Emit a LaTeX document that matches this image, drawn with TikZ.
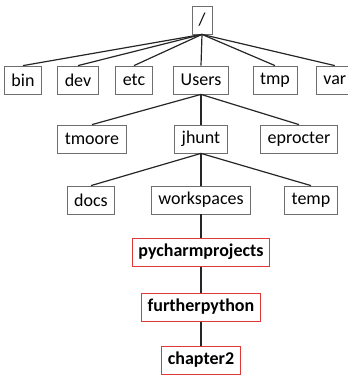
\documentclass[tikz,border=0pt]{standalone}
\usepackage{fontspec}
\setmainfont{Carlito}
\usepackage{xcolor}
\usetikzlibrary{positioning}
\definecolor{boxgray}{RGB}{110,110,110}
\definecolor{hired}{RGB}{225,55,55}
\tikzset{
  dir/.style={rectangle, draw=boxgray, line width=0.8pt, fill=white, inner xsep=7pt, minimum height=28pt, font=\fontsize{18}{21}\selectfont},
  hidir/.style={dir, draw=hired, line width=1pt, inner xsep=6pt, font=\fontsize{18}{21}\selectfont\bfseries},
  link/.style={line width=1.2pt, black!85},
}

\begin{document}
\begin{tikzpicture}[x=1pt, y=-1pt]
  \useasboundingbox (0,0) rectangle (348,376);

  \node[dir, minimum width=20pt, inner xsep=3pt] (root) at (202,20) {/};

  \node[dir] (bin) at (23,80) {bin};
  \node[dir] (dev) at (78,80) {dev};
  \node[dir] (etc) at (134,80) {etc};
  \node[dir] (users) at (201,80) {Users};
  \node[dir] (tmp) at (275,80) {tmp};
  \node[dir, anchor=west] (var) at (316,80) {var};

  \node[dir] (tmoore) at (92,139) {tmoore};
  \node[dir] (jhunt) at (201,139) {jhunt};
  \node[dir] (eprocter) at (299,139) {eprocter};

  \node[dir] (docs) at (91,200) {docs};
  \node[dir] (workspaces) at (201,200) {workspaces};
  \node[dir] (temp) at (311,200) {temp};

  \node[hidir] (pycharm) at (201,252) {pycharmprojects};
  \node[hidir] (further) at (201,307) {furtherpython};
  \node[hidir] (chapter) at (201,360) {chapter2};

  \foreach \n in {bin, dev, etc, users, tmp, var}
    \draw[link] (root.south) -- (\n.north);
  \foreach \n in {tmoore, jhunt, eprocter}
    \draw[link] (users.south) -- (\n.north);
  \foreach \n in {docs, workspaces, temp}
    \draw[link] (jhunt.south) -- (\n.north);
  \draw[link] (workspaces) -- (pycharm);
  \draw[link] (pycharm) -- (further);
  \draw[link] (further) -- (chapter);
\end{tikzpicture}
\end{document}
